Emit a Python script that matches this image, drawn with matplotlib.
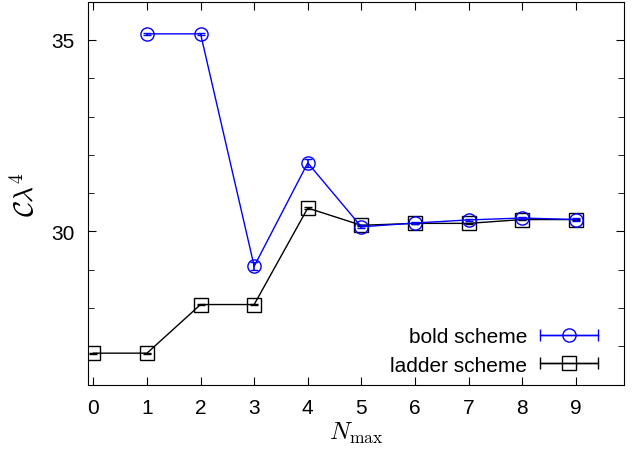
import numpy as np
import matplotlib
matplotlib.use("Agg")
import matplotlib.pyplot as plt
from matplotlib.legend_handler import HandlerErrorbar

plt.rcParams['font.family'] = ['Liberation Sans', 'DejaVu Sans']
plt.rcParams['mathtext.fontset'] = 'cm'

# N_max values
n_bold = [1, 2, 3, 4, 5, 6, 7, 8, 9]
n_ladder = [0, 1, 2, 3, 4, 5, 6, 7, 8, 9]

# C lambda^4 values
c_bold = [35.16, 35.16, 29.09, 31.79, 30.12, 30.22, 30.30, 30.35, 30.31]
err_bold = [0.02, 0.02, 0.10, 0.10, 0.04, 0.03, 0.03, 0.03, 0.03]
c_ladder = [26.82, 26.82, 28.09, 28.09, 30.61, 30.16, 30.21, 30.21, 30.31, 30.31]
err_ladder = [0.01, 0.01, 0.01, 0.01, 0.02, 0.02, 0.02, 0.02, 0.02, 0.02]

fig = plt.figure(figsize=(6.38, 4.52), dpi=100)
ax = fig.add_axes([0.138, 0.147, 0.840, 0.847])

ax.errorbar(n_bold, c_bold, yerr=err_bold, color='#0000ff', lw=1.0,
            marker='o', ms=9.5, mfc='none', mew=1.0, capsize=3, elinewidth=1.2,
            capthick=1.5, zorder=3)
ax.errorbar(n_ladder, c_ladder, yerr=err_ladder, color='black', lw=1.0,
            marker='s', ms=10.5, mfc='none', mew=1.0, capsize=3, elinewidth=1.2,
            capthick=1.5, zorder=2)

# legend proxies in gnuplot style (horizontal bar with end caps)
h1 = ax.errorbar([np.nan], [np.nan], xerr=[1], color='#0000ff', lw=1.0, marker='o',
                 ms=9.5, mfc='none', mew=1.0, capsize=4, label='bold scheme')
h2 = ax.errorbar([np.nan], [np.nan], xerr=[1], color='black', lw=1.0, marker='s',
                 ms=10.5, mfc='none', mew=1.0, capsize=4, label='ladder scheme')
ax.legend(handles=[h1, h2], loc='lower right', bbox_to_anchor=(0.967, 0.004),
          frameon=False, markerfirst=False,
          fontsize=15, handlelength=2.8, handletextpad=0.6, labelspacing=0.45,
          borderaxespad=0,
          handler_map={h1: HandlerErrorbar(xerr_size=1.4), h2: HandlerErrorbar(xerr_size=1.4)})

ax.set_xlim(-0.1, 9.9)
ax.set_ylim(26, 36)
ax.set_xticks(range(10))
ax.set_yticks([30, 35])
ax.set_yticks(range(26, 37), minor=True)
ax.tick_params(which='both', direction='in', top=True, right=True, labelsize=15)
ax.tick_params(which='major', length=6)
ax.tick_params(which='minor', length=4)
ax.tick_params(axis='x', pad=10)
ax.tick_params(axis='y', pad=10)

ax.set_xlabel(r'$N_{\max}$', fontsize=18, labelpad=2)
ax.set_ylabel(r'$\mathcal{C}\lambda^4$', fontsize=20, labelpad=8)

fig.savefig('out.png', dpi=100)
